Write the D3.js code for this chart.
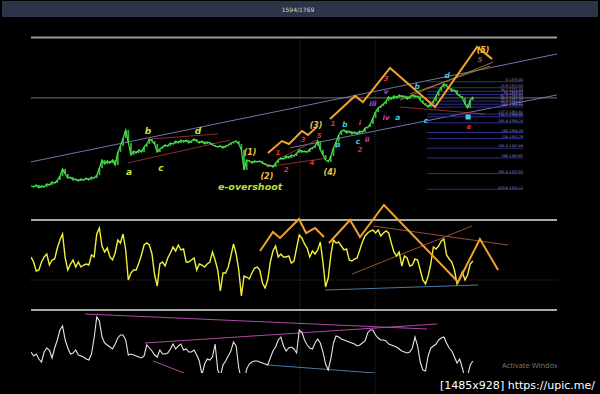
<!DOCTYPE html>
<html>
<head>
<meta charset="utf-8">
<script src="https://cdn.jsdelivr.net/npm/d3@7"></script>
<style>
  html, body { margin: 0; padding: 0; background: #000; }
  svg { display: block; }
  .wave { font-family: "DejaVu Sans", sans-serif; font-weight: bold; font-style: italic; }
</style>
</head>
<body>
<svg id="chart"></svg>
<script>
// ---- data (bar index = position in the arrays) ----
const closes = [
  1332.5,1332.1,1332.9,1331.7,1332.5,1332.1,1333.3,1332.9,1334.1,1333.7,
  1334.9,1336.5,1339.4,1337.4,1335.7,1336.1,1334.9,1335.3,1334.5,1335.3,
  1334.9,1335.7,1334.9,1336.1,1335.7,1336.9,1339.8,1343.1,1341.4,1342.7,
  1341.8,1343.1,1341.0,1346.3,1348.8,1352.0,1355.3,1350.0,1345.1,1346.7,
  1345.9,1347.2,1346.3,1348.4,1349.6,1351.6,1350.8,1349.6,1346.3,1347.6,
  1348.4,1349.2,1348.8,1350.0,1349.6,1350.8,1350.0,1351.2,1350.4,1351.2,
  1350.0,1350.8,1351.6,1350.8,1350.0,1350.8,1349.6,1350.4,1350.0,1349.2,
  1348.8,1348.4,1348.8,1348.0,1348.8,1349.2,1350.0,1350.4,1350.8,1349.6,
  1347.2,1339.0,1343.1,1342.7,1341.8,1342.7,1342.3,1342.7,1341.8,1341.4,
  1340.6,1341.0,1340.2,1341.8,1343.1,1343.9,1343.5,1344.7,1343.9,1345.1,
  1344.7,1345.9,1347.2,1346.3,1346.7,1346.3,1347.6,1348.0,1348.8,1350.8,
  1347.2,1345.1,1343.1,1342.3,1344.7,1348.0,1350.4,1353.3,1354.9,1355.3,
  1354.1,1354.9,1353.7,1354.5,1353.7,1354.9,1354.5,1356.1,1356.5,1357.7,
  1360.2,1362.6,1364.3,1365.1,1365.9,1367.1,1368.8,1367.9,1369.2,1368.4,
  1369.6,1368.8,1369.2,1367.9,1368.8,1369.6,1368.8,1369.2,1367.5,1366.3,
  1365.5,1364.7,1365.9,1367.1,1369.2,1371.2,1372.8,1374.1,1373.2,1372.4,
  1371.2,1371.6,1370.0,1369.2,1368.4,1365.9,1364.3,1367.5,1368.8
];

const yellowOsc = [
  43,38,29,30,38,43,46,35,40,41, 52,60,66,42,30,36,40,33,38,33,
  35,36,35,45,43,66,72,54,48,52, 43,40,47,60,57,66,50,20,27,30,
  30,37,45,55,57,55,46,25,14,36, 38,34,42,47,53,49,55,50,51,38,
  38,40,42,30,36,35,33,36,38,48, 40,30,9,27,27,33,44,56,46,30,
  4,24,23,21,27,32,33,30,17,12, 20,38,49,54,43,46,43,43,44,37,
  39,52,65,62,56,52,43,49,46,50, 58,38,13,22,45,60,57,58,54,50,
  51,40,39,41,42,50,58,64,67,69, 70,67,70,64,67,69,67,57,48,44,
  48,34,44,42,34,35,41,40,30,20, 16,24,36,53,51,54,59,61,45,41,
  38,30,16,22,28,20,25,36,39
];

const whiteOsc = [
  38,34,36,31,28,38,42,40,32,42, 50,60,64,50,42,36,37,40,35,34,
  33,31,30,36,52,73,69,53,47,45, 43,41,46,52,55,55,50,35,36,35,
  34,33,32,34,45,42,39,35,33,40, 36,36,37,41,46,41,44,46,40,41,
  38,38,40,35,29,15,26,31,30,33, 46,20,14,25,29,34,39,48,44,22,
  10,8,21,26,28,29,29,28,27,26, 25,32,39,43,50,53,44,39,42,43,
  41,37,60,58,50,45,42,41,47,51, 47,38,26,20,31,47,54,53,51,50,
  49,48,47,46,44,45,47,49,57,60, 60,55,52,50,50,49,46,45,44,43,
  41,39,38,37,38,42,53,44,28,20, 19,34,42,44,46,50,52,53,47,42,
  39,33,27,31,22,12,14,25,29
];

const fibLevels = ['0','23.6','38.2','50','61.8','76.4','88.6','100','127.2','138.2',
                   '161.8','200','224','261.8','300','361.8','423.6'];
const fibPrices = [1375.00,1372.55,1371.04,1369.82,1368.60,1367.09,1365.82,1364.64,1361.82,1360.68,
                   1358.24,1354.28,1351.79,1347.88,1343.92,1337.52,1331.12];
const fibSpan = [150.6, 187.1];

// wave zigzags [bar, price] / [bar, value]
const waveSmall = [[90.1,1345.9],[95.4,1350.8],[98.1,1349.6],[103.0,1354.9],[105.3,1353.3],[108.7,1356.5]];
const waveBig = [[113.7,1359.8],[123.2,1369.2],[126.2,1366.7],[136.5,1380.6],[153.6,1364.7],[169.6,1389.2],[175.3,1384.3]];
const oscWaveSmall = [[87.1,49],[92.0,68],[94.7,62],[101.9,81],[104.6,67],[108.0,72],[111.4,63]];
const oscWaveBig = [[113.3,57],[121.3,80],[125.1,63],[134.2,95],[162.4,18],[170.7,61],[177.6,30]];

// trend lines
const channelLines = [[[0,1342.3],[200,1386.3]], [[98.5,1348.0],[200,1369.6]]];
const levelLines = [[[0,1368.4],[200,1368.4]]];
const redLines = [
  [[36.9,1341.9],[75.7,1351.2]], [[45.2,1351.6],[71.1,1353.7]],
  [[89.7,1340.3],[112.4,1343.8]], [[94.7,1343.8],[109.2,1351.5]],
  [[140.3,1364.7],[172.6,1361.8]]
];
const olivLines = [[[140.3,1367.5],[175.7,1383.0]], [[144.1,1370.0],[174.5,1381.4]]];
const osc1Brown = [[[122.1,26],[167.7,74]], [[130.0,74],[181.4,55]]];
const osc1Blue = [[[111.8,10],[170.0,15]]];
const osc2Pink = [[[20.5,76],[150.6,61]], [[43.3,47],[154.4,66]], [[46.4,29],[58.2,17]]];
const osc2Blue = [[[90.1,25],[130.8,17]]];
const osc1Levels = [80, 20];
const osc2Levels = [80];
const sessionBars = [102.3, 130.8];

// wave labels [text, bar, price]
const abcLabels = [['b',44.5,1354.5],['d',63.5,1354.5],['a',37.3,1337.8],['c',49.4,1339.8]];
const degreeLabels = [['(1)',83.3,1346.3],['(2)',89.7,1336.5],['(3)',108.4,1357.2],['(4)',113.7,1337.8],['(5)',171.9,1387.9]];
const redLabels = [['1',93.9,1345.9],['2',97.0,1339.0],['3',103.4,1351.2],['4',106.8,1341.8],['5',109.6,1352.7],
                   ['1',114.8,1357.7],['2',125.1,1347.2],['3',135.0,1376.1],['5',170.7,1383.9],['e',166.5,1356.5]];
const cyanLabels = [['a',116.7,1349.2],['b',119.4,1357.3],['c',124.3,1350.4],['a',139.5,1360.2],
                    ['b',146.8,1372.8],['c',150.2,1359.0],['d',158.2,1377.3]];
const magentaLabels = [['i',125.1,1358.2],['ii',127.8,1351.2],['iii',130.0,1365.9],['iv',135.0,1360.2],['v',135.0,1370.8]];
const overshootLabel = ['e-overshoot', 71.1, 1330.8];
const markerPoint = [166.2, 1360.6];

// ---- layout ----
const W = 600, H = 394;
const svg = d3.select('#chart').attr('width', W).attr('height', H)
  .style('background', '#000');

const x = d3.scaleLinear().domain([0, 200]).range([31, 557]);
const yPrice = d3.scaleLinear().domain([1320.64, 1392.82]).range([215, 38]);
const yOsc1 = d3.scaleLinear().domain([0, 100]).range([300, 200]);
const yOsc2 = d3.scaleLinear().domain([0, 100]).range([390, 290]);

const defs = svg.append('defs');
defs.append('clipPath').attr('id', 'clipMain').append('rect')
  .attr('x', 31).attr('y', 38).attr('width', 526).attr('height', 177);
defs.append('clipPath').attr('id', 'clipOsc1').append('rect')
  .attr('x', 31).attr('y', 200).attr('width', 526).attr('height', 100);
defs.append('clipPath').attr('id', 'clipOsc2').append('rect')
  .attr('x', 31).attr('y', 311).attr('width', 526).attr('height', 62);
defs.append('clipPath').attr('id', 'clipAll').append('rect')
  .attr('x', 31).attr('y', 0).attr('width', 526).attr('height', H);

// top bar
svg.append('rect').attr('x', 2).attr('y', 1).attr('width', 596).attr('height', 16).attr('fill', '#2c3447');
svg.append('text').attr('x', 298).attr('y', 11.5).attr('text-anchor', 'middle')
  .attr('font-family', 'DejaVu Sans, sans-serif').attr('font-size', 6).attr('fill', '#d0d4dc')
  .text('1594/1769');

// session separators
svg.selectAll('.sep').data(sessionBars).join('line')
  .attr('x1', d => x(d)).attr('x2', d => x(d))
  .attr('y1', 38).attr('y2', H)
  .attr('stroke', '#3a3a3a').attr('stroke-width', 0.8).attr('stroke-dasharray', '1,1');

// panel border
svg.append('line').attr('x1', 31).attr('x2', 557).attr('y1', 37.5).attr('y2', 37.5)
  .attr('stroke', '#9a9a9a').attr('stroke-width', 2);

// ---- main panel ----
const main = svg.append('g').attr('clip-path', 'url(#clipMain)');
const linePrice = d3.line().x(d => x(d[0])).y(d => yPrice(d[1]));

function drawLines(g, data, line, color, width) {
  g.selectAll(null).data(data).join('path')
    .attr('d', line).attr('fill', 'none')
    .attr('stroke', color).attr('stroke-width', width);
}

drawLines(main, levelLines, linePrice, '#8d8d8d', 0.8);
drawLines(main, channelLines, linePrice, '#8f8fd8', 0.8);

// fib grid
main.selectAll('.fib').data(fibPrices).join('line')
  .attr('x1', x(fibSpan[0])).attr('x2', x(fibSpan[1]))
  .attr('y1', d => yPrice(d)).attr('y2', d => yPrice(d))
  .attr('stroke', '#2e2e8c').attr('stroke-width', 1);
main.selectAll('.fibLabel').data(fibPrices).join('text')
  .attr('x', x(fibSpan[1])).attr('y', d => yPrice(d) - 0.8)
  .attr('text-anchor', 'end')
  .attr('font-family', 'DejaVu Sans, sans-serif').attr('font-size', 3.4)
  .attr('fill', '#9a9ad8')
  .text((d, i) => fibLevels[i] + ' ' + d.toFixed(2));

drawLines(main, redLines, linePrice, '#b03a3a', 0.8);
drawLines(main, olivLines, linePrice, '#b08a40', 0.8);

// candles: open = previous close
main.selectAll('.candle').data(closes.slice(1)).join('rect')
  .attr('x', (d, i) => x(i + 1) - 0.9)
  .attr('y', (d, i) => yPrice(Math.max(d, closes[i])))
  .attr('width', 1.8)
  .attr('height', (d, i) => Math.max(1.5, Math.abs(yPrice(d) - yPrice(closes[i]))))
  .attr('fill', '#2fb83a');
main.append('path')
  .attr('d', d3.line().x((d, i) => x(i)).y(d => yPrice(d))(closes))
  .attr('fill', 'none').attr('stroke', '#4fe04f').attr('stroke-width', 1.2);

// orange wave zigzags
[waveSmall, waveBig].forEach(w => {
  main.append('path').attr('d', linePrice(w)).attr('fill', 'none')
    .attr('stroke', '#f2a12a').attr('stroke-width', 2);
});

// marker
main.append('rect')
  .attr('x', x(markerPoint[0]) - 2.5).attr('y', yPrice(markerPoint[1]) - 2.5)
  .attr('width', 5).attr('height', 5).attr('fill', '#3fd0e0');

function drawLabels(g, data, yScale, color, size) {
  g.selectAll(null).data(data).join('text')
    .attr('class', 'wave')
    .attr('x', d => x(d[1])).attr('y', d => yScale(d[2]))
    .attr('text-anchor', 'middle').attr('dominant-baseline', 'middle')
    .attr('font-size', size).attr('fill', color)
    .text(d => d[0]);
}
drawLabels(main, abcLabels, yPrice, '#c8e23a', 9);
drawLabels(main, degreeLabels, yPrice, '#e8c24a', 8);
drawLabels(main, redLabels, yPrice, '#e23030', 7);
drawLabels(main, cyanLabels, yPrice, '#3cc8dc', 7.5);
drawLabels(main, magentaLabels, yPrice, '#c844c8', 7);

main.append('text').attr('class', 'wave')
  .attr('x', x(overshootLabel[1])).attr('y', yPrice(overshootLabel[2]))
  .attr('font-size', 9.5).attr('fill', '#b8e03a')
  .text(overshootLabel[0]);

// ---- oscillator 1 (yellow) ----
const osc1 = svg.append('g').attr('clip-path', 'url(#clipOsc1)');
const lineOsc1 = d3.line().x(d => x(d[0])).y(d => yOsc1(d[1]));
osc1.selectAll('.lvl').data(osc1Levels).join('line')
  .attr('x1', 31).attr('x2', 557)
  .attr('y1', d => yOsc1(d)).attr('y2', d => yOsc1(d))
  .attr('stroke', (d, i) => i === 0 ? '#a8a8a8' : '#5a2a2a')
  .attr('stroke-width', (d, i) => i === 0 ? 2 : 1)
  .attr('stroke-dasharray', (d, i) => i === 0 ? null : '1,1.5');
drawLines(osc1, osc1Blue, lineOsc1, '#4a78a8', 1);
drawLines(osc1, osc1Brown, lineOsc1, '#a85a38', 0.9);
osc1.append('path')
  .attr('d', d3.line().x((d, i) => x(i)).y(d => yOsc1(d))(yellowOsc))
  .attr('fill', 'none').attr('stroke', '#f2f03a').attr('stroke-width', 1.4);
[oscWaveSmall, oscWaveBig].forEach(w => {
  osc1.append('path').attr('d', lineOsc1(w)).attr('fill', 'none')
    .attr('stroke', '#f2a12a').attr('stroke-width', 2);
});

// ---- oscillator 2 (white) ----
svg.selectAll('.lvl2').data(osc2Levels).join('line')
  .attr('x1', 31).attr('x2', 557)
  .attr('y1', d => yOsc2(d)).attr('y2', d => yOsc2(d))
  .attr('stroke', '#a8a8a8').attr('stroke-width', 2);
const osc2 = svg.append('g').attr('clip-path', 'url(#clipOsc2)');
const lineOsc2 = d3.line().x(d => x(d[0])).y(d => yOsc2(d[1]));
drawLines(osc2, osc2Pink, lineOsc2, '#b04aa8', 1);
drawLines(osc2, osc2Blue, lineOsc2, '#4a78a8', 1);
osc2.append('path')
  .attr('d', d3.line().x((d, i) => x(i)).y(d => yOsc2(d))(whiteOsc))
  .attr('fill', 'none').attr('stroke', '#e6e6e6').attr('stroke-width', 1.1);

// screenshot overlays
svg.append('g').attr('clip-path', 'url(#clipAll)')
  .append('text').attr('x', 502).attr('y', 368)
  .attr('font-family', 'Open Sans, sans-serif').attr('font-size', 7.5).attr('fill', '#7a7a7a')
  .text('Activate Windows');
svg.append('text').attr('x', 440).attr('y', 389)
  .attr('font-family', 'DejaVu Sans Condensed, DejaVu Sans, sans-serif')
  .attr('font-size', 11).attr('fill', '#fff')
  .attr('textLength', 155).attr('lengthAdjust', 'spacingAndGlyphs')
  .text('[1485x928] https://upic.me/');
</script>
</body>
</html>
